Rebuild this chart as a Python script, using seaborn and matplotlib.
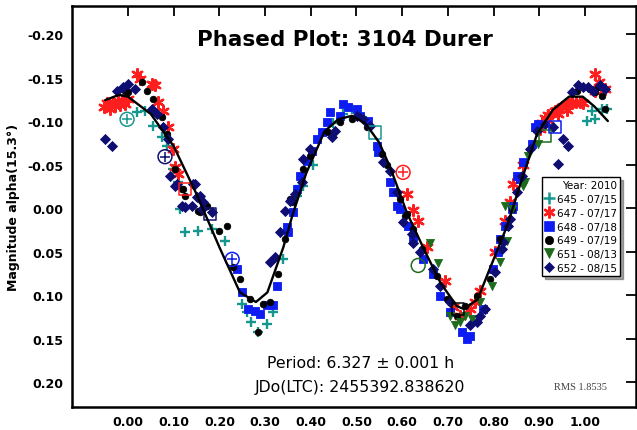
import matplotlib
matplotlib.use("Agg")
import matplotlib.pyplot as plt
from matplotlib.lines import Line2D
import seaborn as sns
import pandas as pd

# ---------------- data ----------------
sessions = ["645 - 07/15", "647 - 07/17", "648 - 07/18", "649 - 07/19", "651 - 08/13", "652 - 08/15"]
colors = ["#16978e", "#ff1e1e", "#0d1cf0", "#000000", "#1e6b1e", "#0e0e72"]
markers = ["+", (6, 2, 0), "s", "o", "v", "D"]
sizes = [60, 60, 36, 22, 34, 26]

p645 = [0.02, 0.037, 0.055, 0.074, 0.085, 0.098, 0.11, 0.114, 0.125, 0.153, 0.184, 0.212,
        0.249, 0.26, 0.27, 0.284, 0.304, 0.318, 0.339, 0.37, 0.376, 0.383, 0.405, 0.449, 0.49,
        0.47, 0.52, 1.004, 1.015, 1.022, 1.037, 1.048]
m645 = [-0.11, -0.112, -0.094, -0.082, -0.071, -0.045, -0.03, 0.001, 0.028, 0.026, 0.024, 0.038,
        0.11, 0.12, 0.131, 0.143, 0.133, 0.12, 0.059, -0.014, -0.025, -0.025, -0.05, -0.098, -0.114,
        -0.108, -0.1, -0.1, -0.112, -0.102, -0.114, -0.114]

p647 = [-0.052, -0.045, -0.04, -0.033, -0.028, -0.022, -0.017, -0.012, -0.006, 0.0,
        0.02, 0.026, 0.053, 0.059, 0.066, 0.077, 0.088, 0.098, 0.103, 0.11,
        0.61, 0.624, 0.635, 0.654, 0.694, 0.711, 0.726, 0.748, 0.759, 0.77, 0.803, 0.825,
        0.836, 0.843, 0.864, 0.902, 0.905, 0.912, 0.918, 0.92, 0.928, 0.935, 0.94, 0.943,
        0.95, 0.958, 0.96, 0.965, 0.972, 0.98, 0.988, 0.995, 1.022, 1.03, 1.044, 1.022]
m647 = [-0.116, -0.121, -0.114, -0.122, -0.117, -0.123, -0.118, -0.124, -0.12, -0.125,
        -0.154, -0.148, -0.143, -0.141, -0.122, -0.112, -0.093, -0.068, -0.047, -0.039,
        -0.016, 0.002, 0.015, 0.045, 0.084, 0.114, 0.124, 0.116, 0.108, 0.095, 0.051, 0.015,
        -0.007, -0.028, -0.05, -0.091, -0.098, -0.103, -0.101, -0.107, -0.109, -0.112, -0.108, -0.114,
        -0.116, -0.118, -0.113, -0.12, -0.121, -0.122, -0.122, -0.121, -0.154, -0.145, -0.137, -0.135]

p648 = [0.238, 0.249, 0.263, 0.278, 0.289, 0.304, 0.318, 0.326, 0.348, 0.35,
        0.361, 0.37, 0.376, 0.392, 0.403, 0.414, 0.424, 0.435, 0.442, 0.464, 0.47, 0.481,
        0.501, 0.508, 0.525, 0.545, 0.547, 0.573, 0.58, 0.589, 0.595, 0.613, 0.624, 0.646,
        0.667, 0.683, 0.705, 0.731, 0.742, 0.748, 0.777, 0.799, 0.81, 0.825, 0.843, 0.858,
        0.814, 0.84, 0.851, 0.864, 0.884, 0.891, 0.897]
m648 = [0.07, 0.097, 0.116, 0.118, 0.122, 0.112, 0.112, 0.09, 0.022, 0.028,
        0.005, -0.022, -0.037, -0.054, -0.066, -0.079, -0.087, -0.099, -0.11, -0.106, -0.12, -0.116,
        -0.114, -0.106, -0.1, -0.071, -0.064, -0.03, -0.018, -0.002, 0.001, 0.021, 0.033, 0.059,
        0.076, 0.101, 0.12, 0.143, 0.151, 0.147, 0.116, 0.07, 0.051, 0.021, -0.002, -0.033,
        0.036, 0.001, -0.037, -0.053, -0.074, -0.093, -0.097]

p649 = [-0.007, 0.0, 0.031, 0.042, 0.055, 0.074, 0.085, 0.103, 0.118, 0.125, 0.158,
        0.12, 0.153, 0.173, 0.2, 0.217, 0.23, 0.245, 0.267, 0.284, 0.295, 0.311, 0.328, 0.344, 0.361,
        0.354, 0.383, 0.398, 0.438, 0.464, 0.49, 0.503, 0.523, 0.556, 0.566, 0.595, 0.606,
        0.61, 0.624, 0.643, 0.676, 0.698, 0.72, 0.737, 0.764, 0.792, 0.814, 0.84,
        0.982, 1.011, 1.022, 1.029, 1.037, 1.044]
m649 = [-0.134, -0.133, -0.145, -0.134, -0.125, -0.105, -0.085, -0.045, -0.022, -0.014, 0.005,
        -0.022, 0.003, -0.002, 0.026, 0.021, 0.068, 0.082, 0.105, 0.143, 0.11, 0.108, 0.076, 0.036, -0.007,
        -0.01, -0.045, -0.06, -0.087, -0.099, -0.102, -0.106, -0.093, -0.062, -0.05, -0.01, 0.009,
        0.007, 0.024, 0.047, 0.078, 0.105, 0.124, 0.113, 0.101, 0.082, 0.036, 0.001,
        -0.135, -0.137, -0.133, -0.139, -0.129, -0.114]

p651 = [0.661, 0.679, 0.705, 0.716, 0.726, 0.737, 0.753, 0.77, 0.796, 0.814, 0.829, 0.84,
        0.864, 0.825, 0.869, 0.875, 0.897]
m651 = [0.04, 0.063, 0.124, 0.135, 0.131, 0.124, 0.128, 0.108, 0.09, 0.062, 0.038, 0.001,
        -0.025, -0.002, -0.03, -0.06, -0.074]

p652 = [-0.05, -0.035, -0.024, -0.011, 0.0, 0.015, 0.053, 0.063, 0.077, 0.088, 0.092, 0.103,
        0.147, 0.158, 0.118, 0.125, 0.14, 0.164, 0.184, 0.107, 0.142, 0.151, 0.162,
        0.311, 0.322, 0.333, 0.344, 0.354, 0.365, 0.381, 0.383, 0.398, 0.446, 0.453, 0.501,
        0.514, 0.53, 0.558, 0.573, 0.589, 0.602, 0.621, 0.624, 0.639, 0.667, 0.683, 0.705,
        0.748, 0.764, 0.77, 0.781, 0.803, 0.821, 0.836, 0.851, 0.862, 0.818, 0.832, 0.88,
        0.895, 0.912, 0.93, 0.952, 0.963, 0.941, 0.972, 0.985, 0.996, 1.007, 1.018, 1.033, 1.044]
m652 = [-0.079, -0.071, -0.134, -0.139, -0.143, -0.137, -0.114, -0.108, -0.093, -0.079, -0.037, -0.025,
        -0.028, -0.014, -0.002, -0.001, -0.002, -0.007, 0.005, -0.028, -0.028, -0.013, 0.001,
        0.062, 0.056, 0.028, 0.003, -0.008, -0.016, -0.03, -0.056, -0.068, -0.082, -0.089, -0.106,
        -0.102, -0.094, -0.053, -0.043, -0.018, 0.016, 0.03, 0.04, 0.051, 0.07, 0.09, 0.108,
        0.135, 0.131, 0.124, 0.116, 0.074, 0.039, 0.013, -0.018, -0.037, 0.047, 0.021, -0.068,
        -0.089, -0.097, -0.093, -0.079, -0.071, -0.051, -0.133, -0.141, -0.139, -0.139, -0.135, -0.141, -0.137]

series_phase = [p645, p647, p648, p649, p651, p652]
series_mag = [m645, m647, m648, m649, m651, m652]

# first-observation markers (open symbols)
start_kind = ["circle", "circle", "circle", "circle", "square", "square", "square", "square", "square", "square"]
start_phase = [-0.002, 0.081, 0.228, 0.602, 0.125, 0.179, 0.54, 0.912, 0.722, 0.934]
start_mag = [-0.102, -0.059, 0.059, -0.041, -0.022, 0.007, -0.087, -0.083, 0.116, -0.093]
start_series = [0, 5, 2, 1, 1, 5, 0, 4, 3, 2]
green_circle_phase = [0.635]
green_circle_mag = [0.066]

# Fourier fit curve
fit_phase = [-0.05, -0.02, 0.0, 0.05, 0.10, 0.15, 0.20, 0.245, 0.28, 0.305, 0.34, 0.36, 0.39,
             0.43, 0.46, 0.49, 0.52, 0.55, 0.575, 0.61, 0.65, 0.685, 0.72, 0.735, 0.765, 0.79,
             0.83, 0.86, 0.895, 0.93, 0.965, 0.995, 1.02, 1.05]
fit_mag = [-0.124, -0.130, -0.128, -0.108, -0.071, -0.016, 0.045, 0.097, 0.108, 0.097, 0.045, 0.008,
           -0.040, -0.088, -0.102, -0.106, -0.097, -0.075, -0.045, 0.005, 0.050, 0.087, 0.113, 0.116,
           0.105, 0.072, 0.020, -0.030, -0.085, -0.113, -0.128, -0.128, -0.117, -0.100]

yticks = [-0.20, -0.15, -0.10, -0.05, 0.00, 0.05, 0.10, 0.15, 0.20]
xticks = [0.0, 0.1, 0.2, 0.3, 0.4, 0.5, 0.6, 0.7, 0.8, 0.9, 1.0]

# ---------------- drawing ----------------
sns.set_style("white")
plt.rcParams["font.family"] = ["DejaVu Sans"]
plt.rcParams["axes.unicode_minus"] = False
plt.rcParams["text.color"] = "black"
plt.rcParams["axes.labelcolor"] = "black"
plt.rcParams["xtick.color"] = "black"
plt.rcParams["ytick.color"] = "black"

fig = plt.figure(figsize=(6.37, 4.31), dpi=100)
ax = fig.add_axes([72 / 637, 23 / 431, 564 / 637, 401 / 431])

fit_df = pd.DataFrame({"phase": fit_phase, "mag": fit_mag})
for i, name in enumerate(sessions):
    df = pd.DataFrame({"phase": series_phase[i], "mag": series_mag[i]})
    mk = markers[i]
    if mk == "+" or isinstance(mk, tuple):
        sns.scatterplot(data=df, x="phase", y="mag", ax=ax, marker=mk, s=sizes[i],
                        color=colors[i], linewidth=1.7, zorder=3, legend=False)
    else:
        sns.scatterplot(data=df, x="phase", y="mag", ax=ax, marker=mk, s=sizes[i],
                        color=colors[i], edgecolor=colors[i], linewidth=0.6, zorder=3, legend=False)

# open start markers
for ph, mg, kind, si in zip(start_phase, start_mag, start_kind, start_series):
    if kind == "circle":
        ax.scatter([ph], [mg], s=100, marker="o", facecolor="none", edgecolor=colors[si], linewidth=1.1, zorder=4)
        ax.scatter([ph], [mg], s=45, marker="+", color=colors[si], linewidth=1.1, zorder=4)
    else:
        ax.scatter([ph], [mg], s=80, marker="s", facecolor="none", edgecolor=colors[si], linewidth=1.1, zorder=4)
ax.scatter(green_circle_phase, green_circle_mag, s=100, marker="o", facecolor="none",
           edgecolor=colors[4], linewidth=1.1, zorder=4)

sns.lineplot(data=fit_df, x="phase", y="mag", ax=ax, sort=False, color="black", linewidth=1.7, zorder=5)

ax.set_xlim(-0.1225, 1.1116)
ax.set_ylim(0.2287, -0.2322)
ax.set_xticks(xticks)
ax.set_xticklabels([f"{t:.2f}" for t in xticks])
ax.set_yticks(yticks)
ax.set_yticklabels([f"{t:.2f}" for t in yticks])
ax.tick_params(axis="both", direction="in", length=7, width=1.3, top=True, right=True,
               labelsize=9, colors="black", pad=6)
for lab in ax.get_xticklabels() + ax.get_yticklabels():
    lab.set_fontweight("bold")
for sp in ax.spines.values():
    sp.set_linewidth(1.8)
    sp.set_color("black")

ax.set_xlabel("")
ax.set_ylabel("Magnitude alpha(15.3°)", fontsize=9, fontweight="bold", color="black")
ax.yaxis.set_label_coords((20 - 72) / 564, 0.5)

ax.text(0.484, 0.918, "Phased Plot: 3104 Durer", transform=ax.transAxes, ha="center", va="center",
        fontsize=15.5, fontweight="bold", color="black")
ax.text(0.511, 0.112, "Period: 6.327 ± 0.001 h", transform=ax.transAxes, ha="center", va="center",
        fontsize=11.3, color="black")
ax.text(0.511, 0.052, "JDo(LTC): 2455392.838620", transform=ax.transAxes, ha="center", va="center",
        fontsize=11.3, color="black")
ax.text(0.901, 0.05, "RMS 1.8535", transform=ax.transAxes, ha="center", va="center",
        fontsize=7.5, family="Liberation Serif", color="#404040")

handles = []
for i, name in enumerate(sessions):
    mk = markers[i]
    key = "*" if isinstance(mk, tuple) else mk
    ms = {"+": 8.5, "*": 8.5, "s": 7, "o": 6, "v": 7, "D": 5.5}[key]
    handles.append(Line2D([], [], linestyle="none", marker=mk, color=colors[i], markersize=ms,
                          markeredgewidth=1.8 if key in ("+", "*") else 0.5, label=name))
leg = ax.legend(handles=handles, title="Year: 2010", loc="upper left", bbox_to_anchor=(0.833, 0.573),
                fontsize=7.5, title_fontsize=7.5, frameon=True, fancybox=False, shadow=True,
                handlelength=0.8, handletextpad=0.35, labelspacing=0.36, borderpad=0.3,
                borderaxespad=0, alignment="right")
leg.get_frame().set_edgecolor("black")
leg.get_frame().set_linewidth(1.0)
leg.set_zorder(10)

fig.savefig("out.png", dpi=100)
